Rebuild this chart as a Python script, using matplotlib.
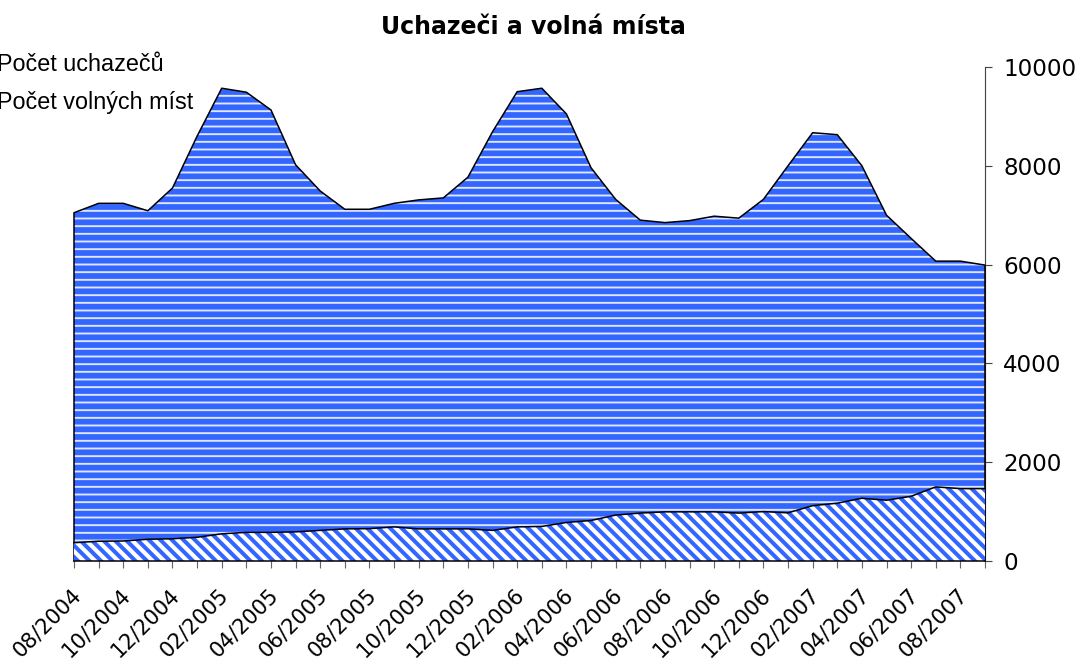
import numpy as np
import matplotlib
matplotlib.use("Agg")
import matplotlib.pyplot as plt
import matplotlib.transforms as mtransforms
from matplotlib.patches import Patch

# monthly values 08/2004 .. 09/2007
months = ["08/2004", "09/2004", "10/2004", "11/2004", "12/2004",
          "01/2005", "02/2005", "03/2005", "04/2005", "05/2005", "06/2005",
          "07/2005", "08/2005", "09/2005", "10/2005", "11/2005", "12/2005",
          "01/2006", "02/2006", "03/2006", "04/2006", "05/2006", "06/2006",
          "07/2006", "08/2006", "09/2006", "10/2006", "11/2006", "12/2006",
          "01/2007", "02/2007", "03/2007", "04/2007", "05/2007", "06/2007",
          "07/2007", "08/2007", "09/2007"]

uchazeci = [7050, 7240, 7240, 7090, 7550, 8600, 9570, 9490, 9130, 8020,
            7490, 7120, 7120, 7240, 7310, 7350, 7770, 8690, 9500, 9570,
            9050, 7960, 7320, 6900, 6850, 6890, 6980, 6940, 7320, 8000,
            8670, 8630, 8000, 7000, 6530, 6070, 6070, 5990]

volna_mista = [370, 400, 405, 440, 450, 480, 550, 580, 580, 590,
               620, 650, 655, 690, 650, 650, 650, 620, 690, 700,
               780, 820, 930, 970, 995, 995, 995, 970, 1000, 975,
               1120, 1170, 1270, 1230, 1310, 1500, 1465, 1465]

BLUE = "#3366ff"
DPI = 138  # hatch cell = dpi pixels, this gives the spacing of the original
HATCH_H = "---"
HATCH_D = chr(92) * 4

fig = plt.figure(figsize=(1081 / DPI, 665 / DPI), dpi=DPI)
ax = fig.add_axes([74 / 1081, 1 - 561 / 665, (985 - 74) / 1081, (561 - 67) / 665])

x = np.arange(len(months))

# applicants - blue with light horizontal lines
plt.rcParams["hatch.linewidth"] = 1.0
top = ax.fill_between(x, 0, uchazeci, facecolor=BLUE, edgecolor="#dfe6ff",
                      linewidth=0, hatch=HATCH_H, zorder=2)
if hasattr(top, "set_hatch_linewidth"):
    top.set_hatch_linewidth(1.0)
ax.plot(np.r_[0, x, x[-1]], np.r_[0, uchazeci, 0], color="black", lw=0.8,
        zorder=3, clip_on=False)

# vacancies - diagonal blue stripes
plt.rcParams["hatch.linewidth"] = 2.1
bot = ax.fill_between(x, 0, volna_mista, facecolor="white", edgecolor=BLUE,
                      linewidth=0, hatch=HATCH_D, zorder=4)
if hasattr(bot, "set_hatch_linewidth"):
    bot.set_hatch_linewidth(2.1)
ax.plot(x, volna_mista, color="black", lw=0.8, zorder=5, clip_on=False)

ax.set_xlim(0, len(months) - 1)
ax.set_ylim(0, 10000)

for s in ["left", "top"]:
    ax.spines[s].set_visible(False)
ax.spines["bottom"].set_color("black")
ax.spines["bottom"].set_linewidth(0.8)
ax.spines["bottom"].set_zorder(6)
ax.spines["right"].set_color("#444444")
ax.spines["right"].set_linewidth(0.6)

ax.yaxis.tick_right()
ax.set_yticks([0, 2000, 4000, 6000, 8000, 10000])
ax.tick_params(axis="y", labelsize=12, length=3.6, width=0.6,
               color="#444444", pad=6)

ax.set_xticks(x)
ax.set_xticklabels([m if i % 2 == 0 else "" for i, m in enumerate(months)],
                   rotation=45, ha="right", fontsize=11)
ax.tick_params(axis="x", length=3.6, width=0.6, color="#666666", pad=9)
offset = mtransforms.ScaledTranslation(11 / DPI, 0, fig.dpi_scale_trans)
for lab in ax.get_xticklabels():
    lab.set_transform(lab.get_transform() + offset)

fig.text(533 / 1081, 1 - 27 / 665, "Uchazeči a volná místa", ha="center",
         va="center", fontsize=12.3, fontweight="bold")

plt.rcParams["hatch.linewidth"] = 1.0
handles = [Patch(facecolor=BLUE, edgecolor="black", hatch=HATCH_H),
           Patch(facecolor="white", edgecolor="black", hatch=HATCH_D)]
fig.legend(handles, ["Počet uchazečů", "Počet volných míst"],
           loc="upper left", bbox_to_anchor=(-0.0718, 0.935), frameon=False,
           prop={"family": "Liberation Sans", "size": 12.2},
           labelspacing=0.66, borderaxespad=0)

fig.savefig("out.png", dpi=DPI)
